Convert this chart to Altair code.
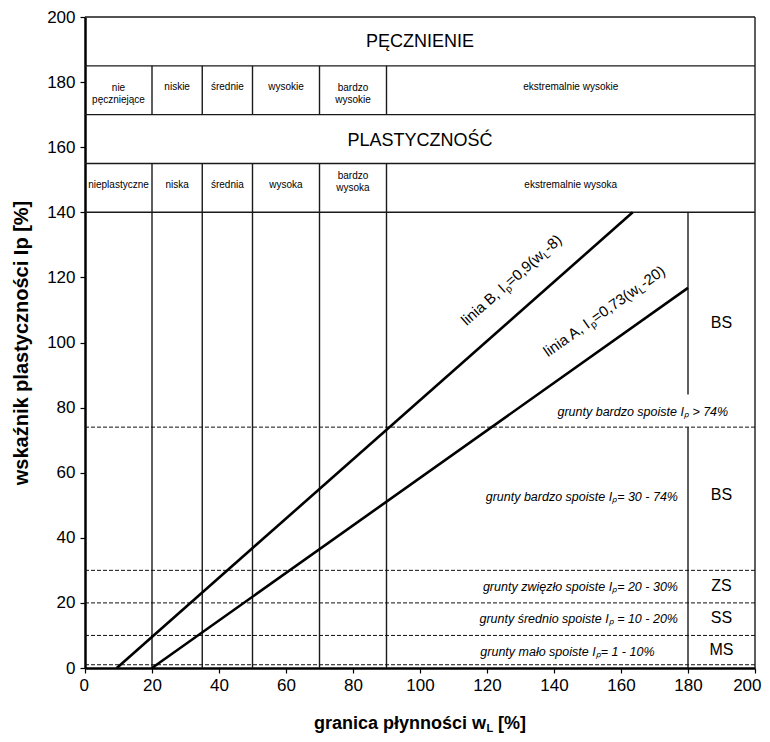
import math
import altair as alt
import pandas as pd

# ---------------- data ----------------
x_ticks = list(range(0, 201, 20))
y_ticks = list(range(0, 201, 20))

class_bounds = [20, 35, 50, 70, 90]          # vertical class limits of w_L
header_levels = [200, 185, 170, 155, 140]    # horizontal lines of the header table
swell_row = [170, 185]                       # row with swelling classes
dashed_levels = [74, 30, 20, 10, 1]          # consistency limits I_p
split_x = 180
split_gap = [74, 84]

lineA_wl = [20, 180]
lineA_ip = [0, 116.8]
lineB_wl = [9.5, 163.5]
lineB_ip = [0, 140]

cell_x = [10, 27.5, 42.5, 60, 80, 145]
swell_labels = ["nie\npęczniejące", "niskie", "średnie", "wysokie", "bardzo\nwysokie", "ekstremalnie wysokie"]
swell_y = [178.3, 178.5, 178.5, 178.5, 178.3, 178.5]
plast_labels = ["nieplastyczne", "niska", "średnia", "wysoka", "bardzo\nwysoka", "ekstremalnie wysoka"]
plast_y = [148.5, 148.5, 148.5, 148.5, 151.0, 148.5]

title_labels = ["PĘCZNIENIE", "PLASTYCZNOŚĆ"]
title_x = [100, 100]
title_y = [192.3, 162.0]

abbr_labels = ["BS", "BS", "ZS", "SS", "MS"]
abbr_x = [190, 190, 190, 190, 190]
abbr_y = [106, 53, 25.3, 15.3, 5.6]

desc_labels = [
    "grunty bardzo  spoiste Iₚ > 74%",
    "grunty bardzo  spoiste Iₚ= 30 - 74%",
    "grunty zwięzło  spoiste Iₚ= 20 - 30%",
    "grunty średnio spoiste Iₚ = 10 - 20%",
    "grunty mało  spoiste Iₚ= 1 - 10%",
]
desc_x = [192, 177, 177, 177, 170]
desc_y = [78.8, 52.5, 25.0, 15.2, 5.0]

# rotated line labels: pieces (text, is_subscript)
lineB_parts = [("linia B, I", False), ("p", True), ("=0,9(w", False), ("L", True), ("-8)", False)]
lineB_lab_pos = [127.3, 119.2]
lineA_parts = [("linia A, I", False), ("p", True), ("=0,73(w", False), ("L", True), ("-20)", False)]
lineA_lab_pos = [155.0, 109.6]

# ---------------- chart ----------------
W, H = 670, 651
FONT = "Liberation Sans"
xs = alt.Scale(domain=[0, 200], nice=False, zero=False)
ys = alt.Scale(domain=[0, 200], nice=False, zero=False)

x_axis = alt.Axis(values=x_ticks, title=None, format="d", labelFlush=True, labelFlushOffset=6)
y_axis = alt.Axis(values=y_ticks, title="wskaźnik plastyczności Ip [%]", format="d", labelFlush=False)

# solid structure segments
seg = []
for h in header_levels:
    seg.append((0, h, 200, h))
seg.append((200, 0, 200, 200))
for b in class_bounds:
    seg.append((b, 0, b, header_levels[3]))
    seg.append((b, swell_row[0], b, swell_row[1]))
seg.append((split_x, 0, split_x, split_gap[0]))
seg.append((split_x, split_gap[1], split_x, header_levels[4]))
seg_df = pd.DataFrame(seg, columns=["x", "y", "x2", "y2"])

base_x = alt.X("x:Q", scale=xs, axis=x_axis)
base_y = alt.Y("y:Q", scale=ys, axis=y_axis)

solid = alt.Chart(seg_df).mark_rule(color="#1a1a1a", strokeWidth=1.4).encode(
    x=base_x, y=base_y, x2="x2:Q", y2="y2:Q")

dash_df = pd.DataFrame({"x": [0] * len(dashed_levels), "x2": [200] * len(dashed_levels), "y": dashed_levels})
dashed = alt.Chart(dash_df).mark_rule(color="#111", strokeWidth=1, strokeDash=[4, 2]).encode(
    x=base_x, x2="x2:Q", y=base_y)

ab_df = pd.DataFrame({
    "x": [lineA_wl[0], lineB_wl[0]], "x2": [lineA_wl[1], lineB_wl[1]],
    "y": [lineA_ip[0], lineB_ip[0]], "y2": [lineA_ip[1], lineB_ip[1]],
})
ab_lines = alt.Chart(ab_df).mark_rule(color="black", strokeWidth=2.6).encode(
    x=base_x, x2="x2:Q", y=base_y, y2="y2:Q")

def txt(df, **kw):
    return alt.Chart(df).mark_text(font=FONT, color="black", **kw).encode(
        x=base_x, y=base_y, text="t:N")

swell_df = pd.DataFrame({"x": cell_x, "y": swell_y, "t": swell_labels})
plast_df = pd.DataFrame({"x": cell_x, "y": plast_y, "t": plast_labels})
titles_df = pd.DataFrame({"x": title_x, "y": title_y, "t": title_labels})
abbr_df = pd.DataFrame({"x": abbr_x, "y": abbr_y, "t": abbr_labels})
desc_df = pd.DataFrame({"x": desc_x, "y": desc_y, "t": desc_labels})

layers = [solid, dashed, ab_lines,
          txt(swell_df, fontSize=10, lineBreak="\n", baseline="middle", lineHeight=12),
          txt(plast_df, fontSize=10, lineBreak="\n", baseline="middle", lineHeight=12),
          txt(titles_df, fontSize=18, baseline="middle"),
          txt(abbr_df, fontSize=16, baseline="middle"),
          txt(desc_df, fontSize=12.5, fontStyle="italic", baseline="middle", align="right")]

# Liberation Sans (Arial metrics) advance widths, per 1000 em
ADV = {" ": 278, ",": 278, "l": 222, "i": 222, "n": 556, "a": 556, "B": 667, "A": 667,
       "I": 278, "p": 556, "=": 584, "(": 333, ")": 333, "w": 722, "L": 556, "-": 333}
for d_ in "0123456789":
    ADV[d_] = 556
MAIN_FS, SUB_FS = 15, 10

def text_w(s, fs):
    return sum(ADV.get(c, 556) for c in s) * fs / 1000.0

px_per_x = W / 200.0
px_per_y = H / 200.0
def angle_of(wl, ip):
    s = (ip[1] - ip[0]) / (wl[1] - wl[0]) * px_per_y / px_per_x
    return 360 - math.degrees(math.atan(s))

for parts, pos, wl, ip in [(lineB_parts, lineB_lab_pos, lineB_wl, lineB_ip),
                           (lineA_parts, lineA_lab_pos, lineA_wl, lineA_ip)]:
    ang = angle_of(wl, ip)
    total = sum(text_w(t, SUB_FS if sub else MAIN_FS) for t, sub in parts)
    off = -total / 2.0
    for t, sub in parts:
        fs = SUB_FS if sub else MAIN_FS
        d = pd.DataFrame({"x": [pos[0]], "y": [pos[1]], "t": [t]})
        layers.append(txt(d, fontSize=fs, baseline="alphabetic", align="left", angle=ang,
                          dx=off, dy=(8 if sub else 5)))
        off += text_w(t, fs)

# x-axis title with subscript L
xt_df = pd.DataFrame({"x": [100, 100, 100], "t": ["granica płynności w", "L", "[%]"]})
bold = dict(font=FONT, fontWeight="bold", color="black", baseline="alphabetic")
xt1 = alt.Chart(xt_df.iloc[[0]]).mark_text(align="right", dx=66, fontSize=18, **bold).encode(
    x=base_x, y=alt.value(H + 61), text="t:N")
xt2 = alt.Chart(xt_df.iloc[[1]]).mark_text(align="left", dx=66.5, fontSize=11, **bold).encode(
    x=base_x, y=alt.value(H + 64), text="t:N")
xt3 = alt.Chart(xt_df.iloc[[2]]).mark_text(align="left", dx=78, fontSize=18, **bold).encode(
    x=base_x, y=alt.value(H + 61), text="t:N")
layers += [xt1, xt2, xt3]

chart = alt.layer(*layers).properties(
    width=W, height=H,
    autosize=alt.AutoSizeParams(type="none"),
    padding={"left": 77, "top": 9, "right": 7, "bottom": 66},
).configure_view(stroke=None).configure_axis(
    labelFont=FONT, labelFontSize=17, labelColor="black",
    titleFont=FONT, titleFontWeight="bold", titleColor="black",
    tickColor="black", tickSize=5, tickWidth=1.2,
    domainColor="black", domainWidth=2.5, grid=False,
).configure_axisY(titlePadding=15, titleFontSize=20, labelPadding=5).configure_axisX(labelPadding=4)

chart.save("out.html", embed_options={"renderer": "svg", "actions": False})
